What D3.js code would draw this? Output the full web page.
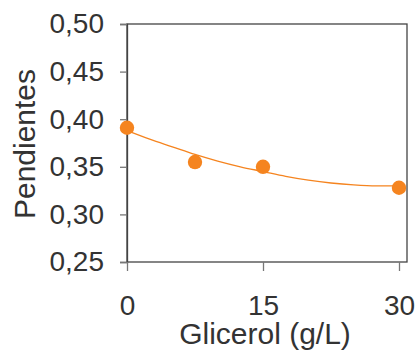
<!DOCTYPE html>
<html>
<head>
<meta charset="utf-8">
<script src="https://cdn.jsdelivr.net/npm/d3@7"></script>
<style>
  html, body { margin: 0; padding: 0; background: #fff; }
  svg { display: block; }
  text { font-family: "Liberation Sans", Arial, sans-serif; fill: #333; }
</style>
</head>
<body>
<svg id="chart" width="417" height="352"></svg>
<script>
// Measured slopes vs. glycerol concentration
const glicerol = [0, 7.5, 15, 30];
const pendientes = [0.391, 0.355, 0.350, 0.328];

// Fitted trend curve
const trendX = [0, 2.5, 5, 7.5, 10, 12.5, 15, 17.5, 20, 22.5, 25, 27.5, 30];
const trendY = [0.388, 0.379, 0.371, 0.363, 0.356, 0.350, 0.345, 0.340, 0.336, 0.333, 0.331, 0.330, 0.330];

const xTicks = [0, 15, 30];
const yTicks = [0.25, 0.30, 0.35, 0.40, 0.45, 0.50];

const svg = d3.select("#chart");
const m = { left: 127, right: 407, top: 24, bottom: 262 };
const xEnd = 399;

const x = d3.scaleLinear().domain([0, 30]).range([m.left, xEnd]);
const y = d3.scaleLinear().domain([0.25, 0.50]).range([m.bottom, m.top]);

const fmt = d => d3.format(".2f")(d).replace(".", ",");

// Plot frame
svg.append("rect")
  .attr("x", m.left).attr("y", m.top)
  .attr("width", m.right - m.left).attr("height", m.bottom - m.top)
  .attr("fill", "none").attr("stroke", "#444").attr("stroke-width", 1.3);

// Y axis
const yAxis = svg.append("g")
  .attr("transform", `translate(${m.left},0)`)
  .call(d3.axisLeft(y).tickValues(yTicks).tickFormat(fmt).tickSize(7).tickPadding(16));
yAxis.select(".domain").attr("stroke", "#444").attr("stroke-width", 1.3);
yAxis.selectAll(".tick line").attr("stroke", "#777").attr("stroke-width", 1.3);
yAxis.selectAll(".tick text")
  .style("font-size", "28px").style("fill", "#333")
  .attr("font-family", null);

// X axis
const xAxis = svg.append("g")
  .attr("transform", `translate(0,${m.bottom})`)
  .call(d3.axisBottom(x).tickValues(xTicks).tickFormat(d3.format("d")).tickSize(9).tickPadding(24));
xAxis.select(".domain").remove();
xAxis.selectAll(".tick line").attr("stroke", "#777").attr("stroke-width", 1.3);
xAxis.selectAll(".tick text")
  .style("font-size", "28px").style("fill", "#333")
  .attr("font-family", null);

// Axis titles
svg.append("text")
  .attr("x", 265).attr("y", 344)
  .attr("text-anchor", "middle")
  .style("font-size", "30px")
  .text("Glicerol (g/L)");

svg.append("text")
  .attr("transform", `translate(35,144) rotate(-90)`)
  .attr("text-anchor", "middle")
  .style("font-size", "30px")
  .text("Pendientes");

// Trend curve
const line = d3.line().x((d, i) => x(trendX[i])).y(d => y(d)).curve(d3.curveMonotoneX);
svg.append("path")
  .datum(trendY)
  .attr("d", line)
  .attr("fill", "none")
  .attr("stroke", "#f5841f")
  .attr("stroke-width", 1.3);

// Data points
svg.append("g").selectAll("circle")
  .data(pendientes)
  .join("circle")
  .attr("cx", (d, i) => x(glicerol[i]))
  .attr("cy", d => y(d))
  .attr("r", 7.2)
  .attr("fill", "#f5841f");
</script>
</body>
</html>
